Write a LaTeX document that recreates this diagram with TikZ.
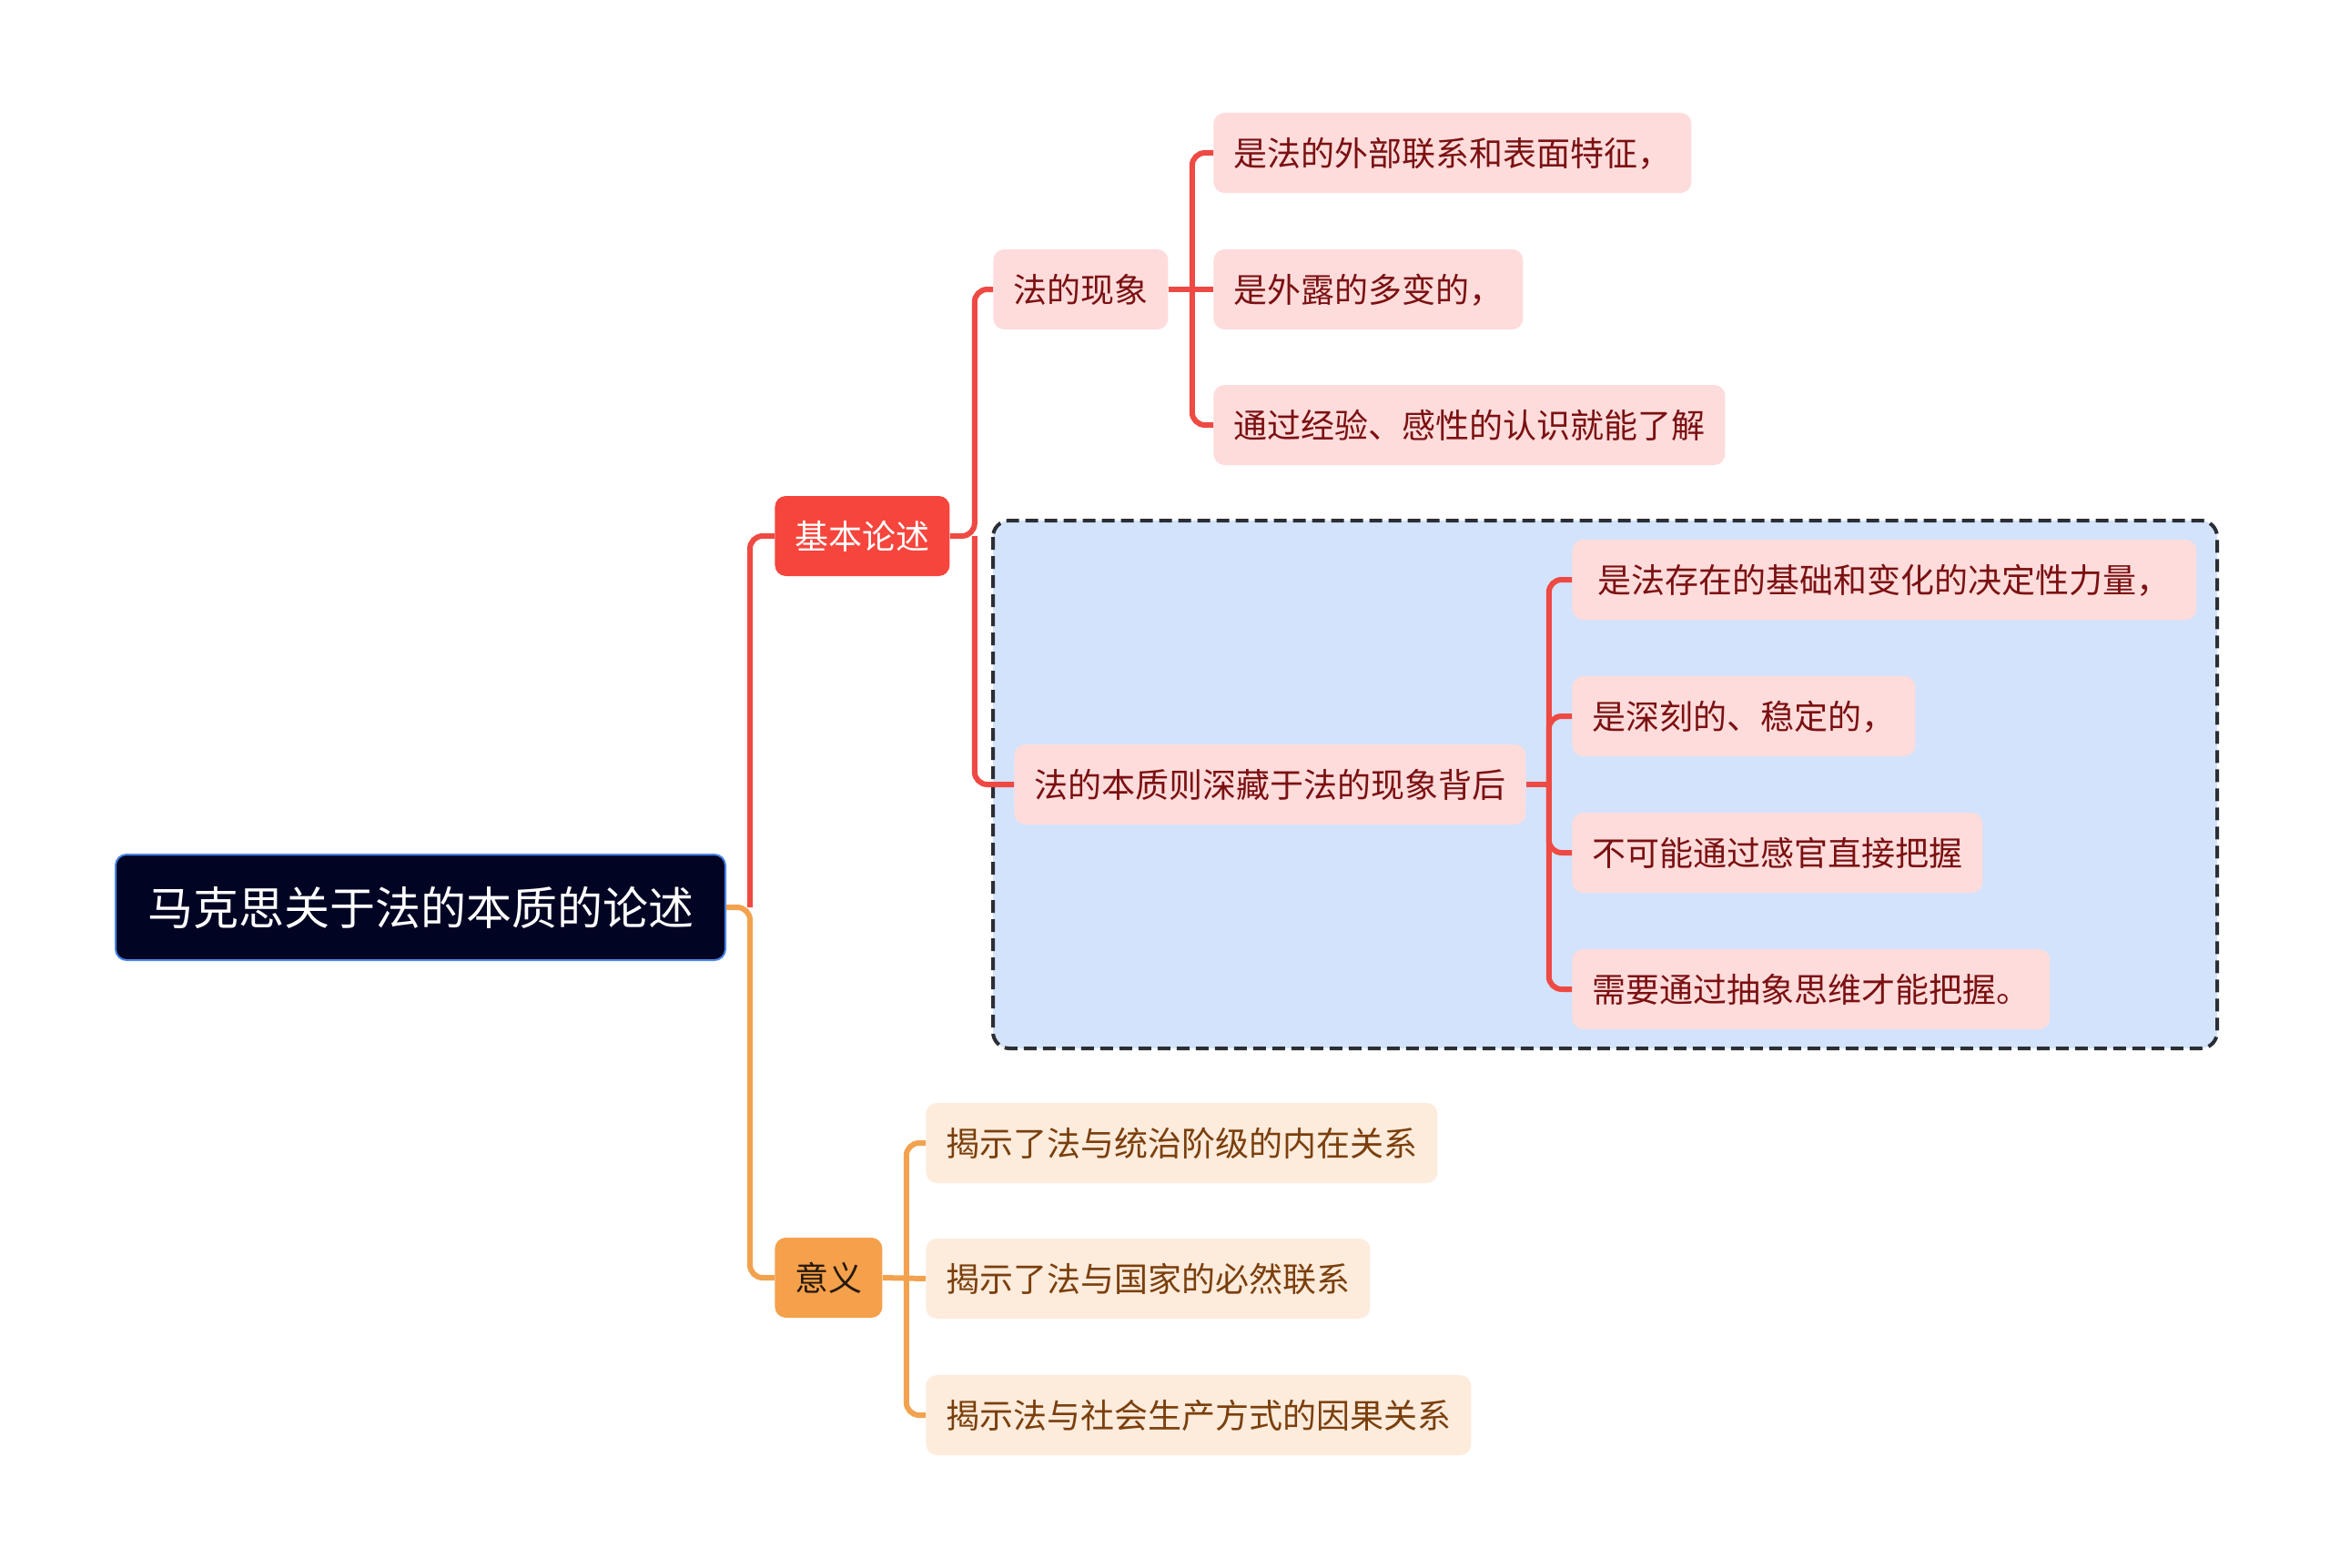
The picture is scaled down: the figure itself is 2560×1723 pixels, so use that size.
\documentclass[tikz,border=0pt]{standalone}
\usepackage{fontspec}
\setmainfont{Noto Sans CJK SC}

\definecolor{rootfill}{HTML}{020424}
\definecolor{rootdraw}{HTML}{4A86E8}
\definecolor{linered}{HTML}{EE4A43}
\definecolor{topicred}{HTML}{F5453D}
\definecolor{pinkfill}{HTML}{FDDCDB}
\definecolor{darkred}{HTML}{7B1012}
\definecolor{lineorange}{HTML}{F2A24F}
\definecolor{topicorange}{HTML}{F5A04B}
\definecolor{peachfill}{HTML}{FDEBDC}
\definecolor{leafbrown}{HTML}{7A3F0C}
\definecolor{regionblue}{HTML}{D3E3FC}
\definecolor{dashgray}{HTML}{2B2E35}

\begin{document}
\begin{tikzpicture}[x=0.5pt, y=-0.5pt,
  leaf/.style={rounded corners=6pt, inner xsep=11pt, inner ysep=0pt, minimum height=44pt,
    text height=16.3pt, text depth=2.2pt, font=\fontsize{18.5pt}{22pt}\selectfont, anchor=west},
  pinkleaf/.style={leaf, fill=pinkfill, text=darkred},
  peachleaf/.style={leaf, fill=peachfill, text=leafbrown},
  redtopic/.style={leaf, fill=topicred, text=white},
  orangetopic/.style={leaf, fill=topicorange, text=black!80!brown},
  rootbox/.style={rounded corners=6pt, fill=rootfill, draw=rootdraw, line width=1pt,
    inner xsep=0pt, inner ysep=0pt, minimum width=335pt, minimum height=58pt, text=white,
    text height=22pt, text depth=3pt, font=\fontsize{25pt}{30pt}\selectfont, anchor=west},
  redline/.style={draw=linered, line width=3pt, rounded corners=7pt},
  orangeline/.style={draw=lineorange, line width=3pt, rounded corners=7pt}]
  \useasboundingbox (0,0) rectangle (2560,1723);

  % dashed region round the essence branch
  \draw[fill=regionblue, draw=dashgray, line width=2pt, dash pattern=on 7pt off 3.5pt,
    rounded corners=9pt] (1091,572) rectangle (2436,1152);

  % root and main topics
  \node[rootbox] (root) at (126,997) {马克思关于法的本质的论述};
  \node[redtopic] (basic) at (851,589) {基本论述};
  \node[orangetopic] (meaning) at (851,1404) {意义};

  % phenomenon
  \node[pinkleaf] (phen) at (1091,318) {法的现象};
  \node[pinkleaf] (phen1) at (1333,168) {是法的外部联系和表面特征，};
  \node[pinkleaf] (phen2) at (1333,318) {是外露的多变的，};
  \node[pinkleaf] (phen3) at (1333,467) {通过经验、感性的认识就能了解};

  % essence
  \node[pinkleaf] (ess) at (1114,862) {法的本质则深藏于法的现象背后};
  \node[pinkleaf, minimum width=343pt] (ess1) at (1727,637) {是法存在的基础和变化的决定性力量，};
  \node[pinkleaf] (ess2) at (1727,787) {是深刻的、稳定的，};
  \node[pinkleaf] (ess3) at (1727,937) {不可能通过感官直接把握};
  \node[pinkleaf] (ess4) at (1727,1087) {需要通过抽象思维才能把握。};

  % meaning
  \node[peachleaf] (mean1) at (1017,1256) {揭示了法与统治阶级的内在关系};
  \node[peachleaf] (mean2) at (1017,1405) {揭示了法与国家的必然联系};
  \node[peachleaf] (mean3) at (1017,1555) {揭示法与社会生产方式的因果关系};

  % connectors
  \coordinate (rootj) at ([xshift=13pt]root.east);
  \draw[redline] (rootj) |- (basic.west);
  \draw[orangeline] (root.east) -- (rootj) |- (meaning.west);

  \coordinate (basicj) at ([xshift=13.5pt]basic.east);
  \draw[redline] (basic.east) -- (basicj) |- (phen.west);
  \draw[redline] (basicj) |- (ess.west);

  \coordinate (phenj) at ([xshift=13pt]phen.east);
  \draw[redline] (phen.east) -- (phen2.west);
  \foreach \n in {phen1,phen3}
    \draw[redline] (phenj) |- (\n.west);

  \coordinate (essj) at ([xshift=12.5pt]ess.east);
  \draw[redline] (ess.east) -- (essj);
  \foreach \n in {ess1,ess2,ess3,ess4}
    \draw[redline] (essj) |- (\n.west);

  \coordinate (meanj) at ([xshift=13pt]meaning.east);
  \draw[orangeline] (meaning.east) -- (mean2.west);
  \foreach \n in {mean1,mean3}
    \draw[orangeline] (meanj) |- (\n.west);
\end{tikzpicture}
\end{document}
